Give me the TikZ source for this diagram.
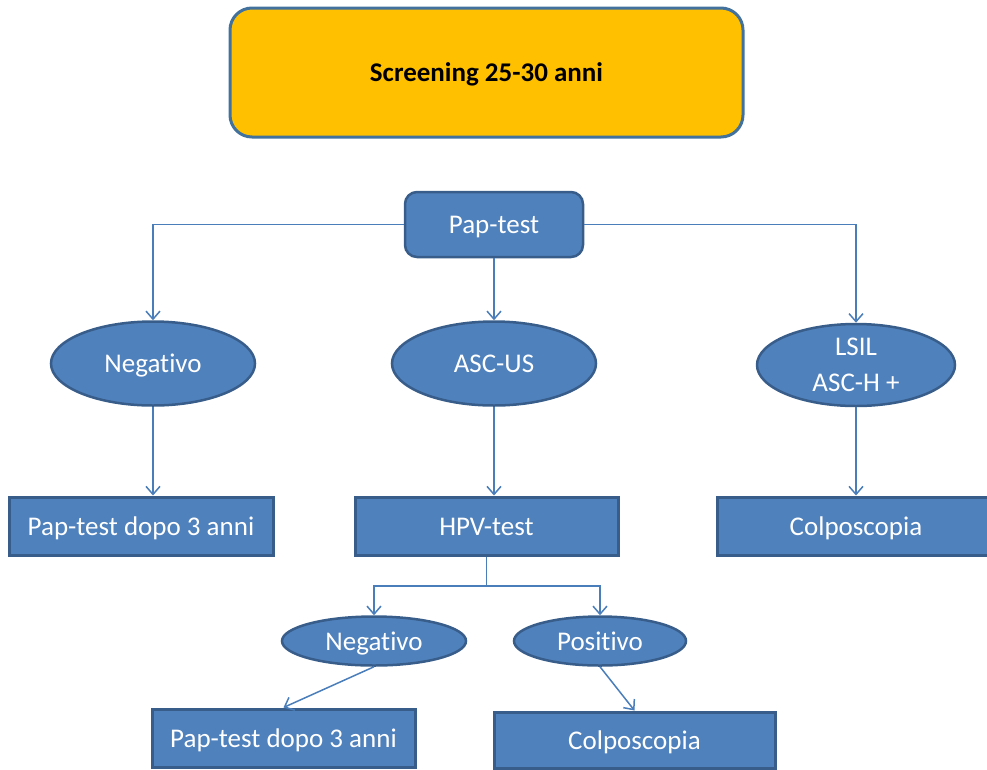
\documentclass[tikz,border=0pt]{standalone}
\usepackage{fontspec}
\setmainfont{Carlito}[Ligatures=NoCommon]
\usetikzlibrary{arrows.meta,shapes.geometric}
\definecolor{boxfill}{HTML}{4F81BD}
\definecolor{boxline}{HTML}{385D8A}
\definecolor{linkcol}{HTML}{4A7EBB}
\definecolor{titlefill}{HTML}{FFC000}
\definecolor{titleline}{HTML}{41719C}
\tikzset{
  base/.style={inner sep=0pt, font=\fontsize{27}{32}\selectfont, align=center},
  oneline/.style={text height=24pt, text depth=5.5pt},
  titlebox/.style={base, oneline, draw=titleline, fill=titlefill, line width=3pt,
    rounded corners=22pt, font=\fontsize{27}{32}\selectfont\bfseries, text=black},
  headbox/.style={base, oneline, draw=boxline, fill=boxfill, line width=2.5pt,
    rounded corners=12pt, text=white},
  resultbox/.style={base, oneline, draw=boxline, fill=boxfill, line width=3pt, text=white},
  outcomeshape/.style={base, ellipse, draw=boxline, fill=boxfill, line width=2.5pt, text=white},
  outcome/.style={outcomeshape, oneline},
  link/.style={draw=linkcol, line width=1.5pt,
    -{Straight Barb[length=8pt,width=14pt,line width=1.5pt]}},
  plainlink/.style={draw=linkcol, line width=1.5pt},
}
\begin{document}
\begin{tikzpicture}[x=1pt,y=-1pt]
\useasboundingbox (0,0) rectangle (987,769);

% title
\node[titlebox, minimum width=513pt, minimum height=129pt] (title) at (486.5,72.5) {Screening 25-30 anni};

% first test
\node[headbox, minimum width=178pt, minimum height=65pt] (pap) at (494,224.5) {Pap-test};

% first-level outcomes
\node[outcome, minimum width=204pt, minimum height=84pt] (neg) at (153,363.5) {Negativo};
\node[outcome, minimum width=204pt, minimum height=84pt] (ascus) at (494,363.5) {ASC-US};
\node[outcomeshape, minimum width=198pt, minimum height=82pt] (lsil) at (856,365) {LSIL\\[4pt]ASC-H +};

% follow-up actions
\node[resultbox, minimum width=264pt, minimum height=58pt] (rep) at (141,526) {Pap-test dopo 3 anni};
\node[resultbox, minimum width=263pt, minimum height=58pt] (hpv) at (486.5,526) {HPV-test};
\node[resultbox, minimum width=278pt, minimum height=58pt] (colpo) at (856,526) {Colposcopia};

% HPV outcomes
\node[outcome, minimum width=184pt, minimum height=49pt] (hneg) at (374,641) {Negativo};
\node[outcome, minimum width=172pt, minimum height=49pt] (hpos) at (600,641) {Positivo};

% final actions
\node[resultbox, minimum width=263pt, minimum height=58pt] (rep2) at (283.5,738) {Pap-test dopo 3 anni};
\node[resultbox, minimum width=281pt, minimum height=56pt] (colpo2) at (634.5,740) {Colposcopia};

% connectors
\draw[link] (pap.west) -| (neg.north);
\draw[link] (pap.south) -- (ascus.north);
\draw[link] (pap.east) -| (lsil.north);
\draw[link] (neg.south) -- (neg.south |- rep.north);
\draw[link] (ascus.south) -- (ascus.south |- hpv.north);
\draw[link] (lsil.south) -- (lsil.south |- colpo.north);

\coordinate (split) at (486.5,586);
\draw[plainlink] (hpv.south) -- (split);
\draw[link] (split) -| (hneg.north);
\draw[link] (split) -| (hpos.north);

\draw[link] (hneg.south) -- (rep2.north);
\draw[link] (hpos.south) -- (colpo2.north);
\end{tikzpicture}
\end{document}
